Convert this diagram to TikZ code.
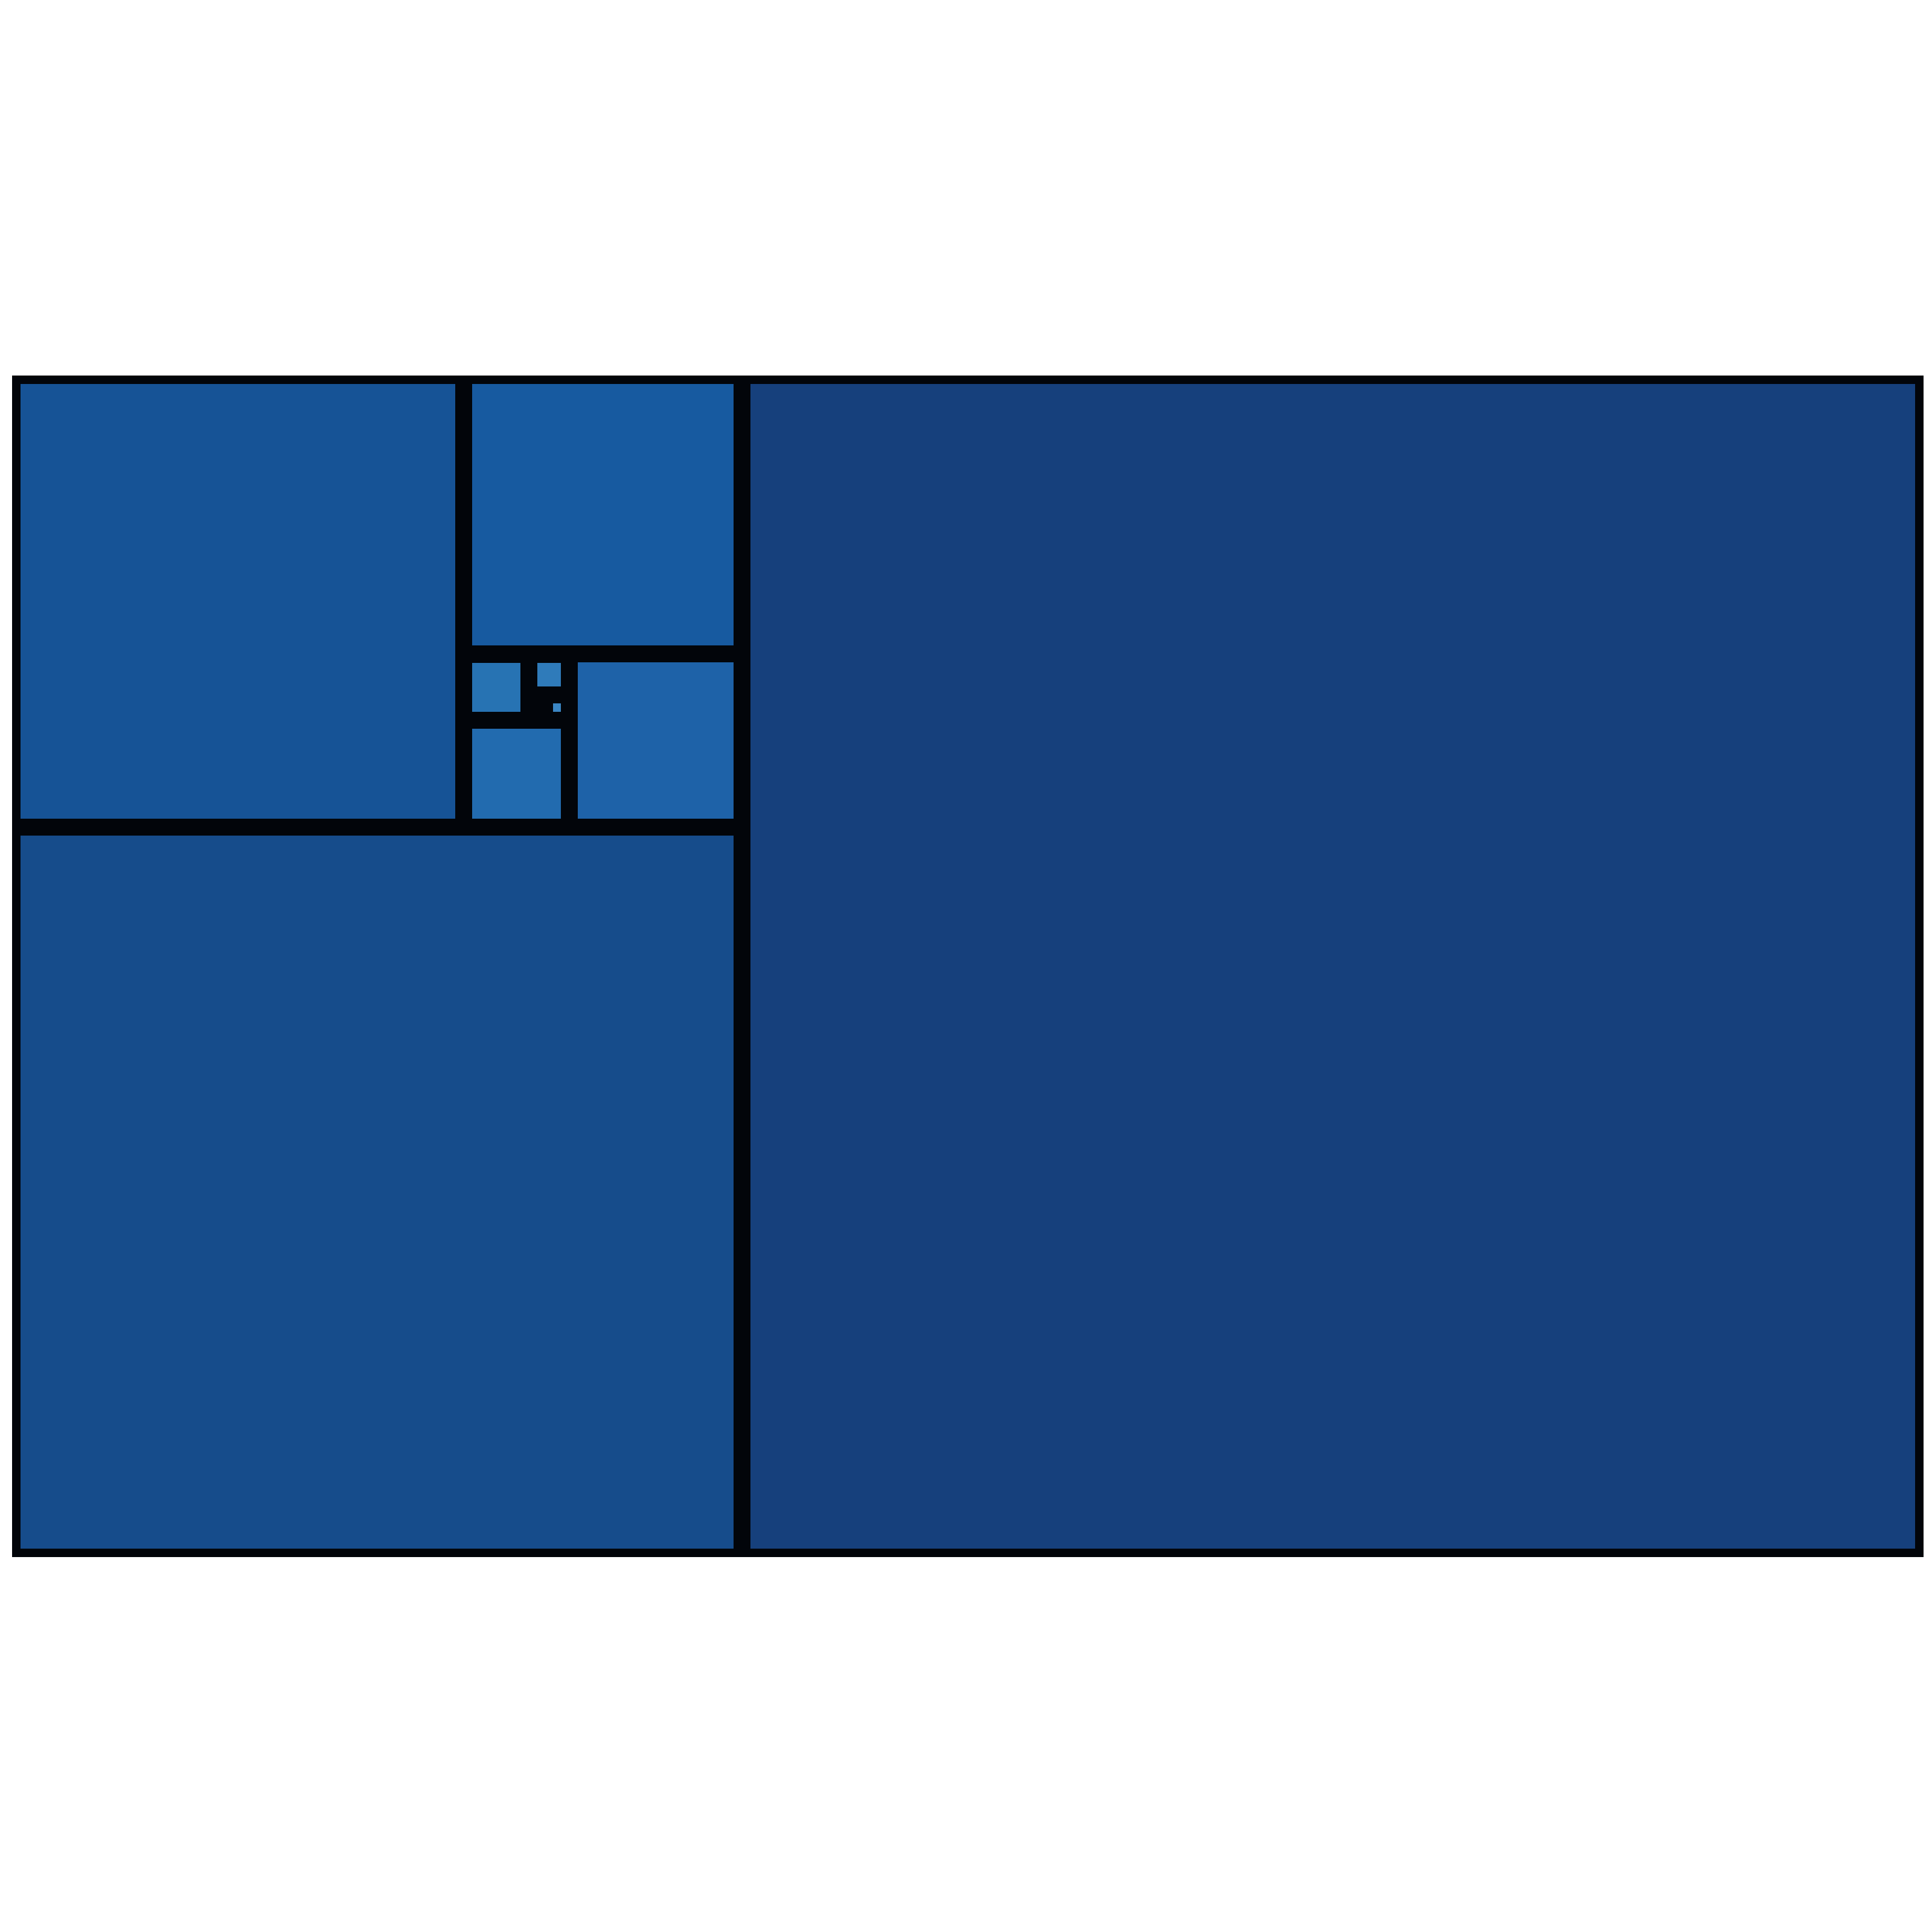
\documentclass[tikz,border=0pt]{standalone}
\usepackage{xcolor}
\definecolor{frame}{RGB}{2,5,10}
\definecolor{sqA}{RGB}{22,64,124}
\definecolor{sqB}{RGB}{22,76,139}
\definecolor{sqC}{RGB}{22,83,150}
\definecolor{sqD}{RGB}{23,90,160}
\definecolor{sqE}{RGB}{30,98,168}
\definecolor{sqF}{RGB}{34,107,175}
\definecolor{sqG}{RGB}{39,115,179}
\definecolor{sqH}{RGB}{47,123,186}
\definecolor{sqI}{RGB}{58,134,196}

\begin{document}
\begin{tikzpicture}[tile/.style={draw=none}]
\useasboundingbox[fill=white] (0,0) rectangle (32,32);
% ---------- outer frame (black shows between the tiles) ----------
\fill[frame] (0.20,6.21) rectangle (31.86,25.78);
% ---------- golden spiral of squares ----------
\fill[tile,sqA] (12.43,6.35) rectangle (31.72,25.64);   % big: right
\fill[tile,sqB] (0.34,6.35) rectangle (12.15,18.16);    % bottom left
\fill[tile,sqC] (0.34,18.44) rectangle (7.54,25.64);    % upper left
\fill[tile,sqD] (7.82,21.31) rectangle (12.15,25.64);   % top
\fill[tile,sqE] (9.57,18.44) rectangle (12.15,21.03);   % right
\fill[tile,sqF] (7.82,18.44) rectangle (9.29,19.93);    % bottom
\fill[tile,sqG] (7.82,20.21) rectangle (8.62,21.02);    % left
\fill[tile,sqH] (8.90,20.63) rectangle (9.29,21.02);    % top
\fill[tile,sqI] (9.16,20.21) rectangle (9.29,20.35);    % right (tiny)
\end{tikzpicture}
\end{document}
